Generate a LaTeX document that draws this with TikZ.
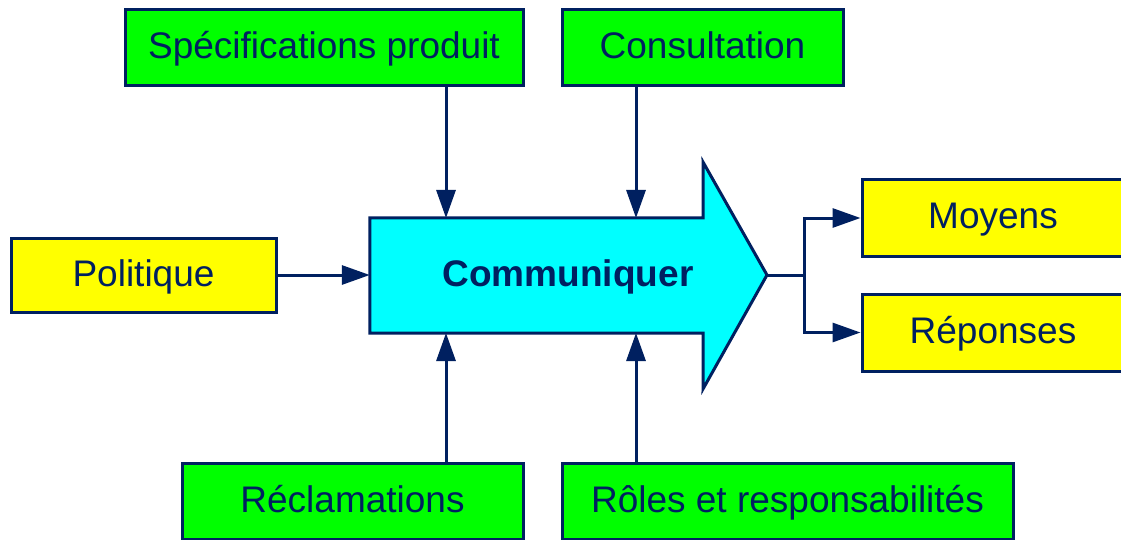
\documentclass[tikz,border=0pt]{standalone}
\usepackage{fontspec}
\setmainfont{Liberation Sans}
\usetikzlibrary{arrows.meta}
\definecolor{navy}{RGB}{0,32,96}
\definecolor{boxgreen}{RGB}{0,255,0}
\definecolor{boxyellow}{RGB}{255,255,0}
\definecolor{boxcyan}{RGB}{0,255,255}
\tikzset{
  box/.style={draw=navy, line width=3pt, text=navy, inner sep=0pt,
    text height=27pt, text depth=5pt,
    font=\fontsize{37}{40}\selectfont},
  gbox/.style={box, fill=boxgreen},
  ybox/.style={box, fill=boxyellow},
  conn/.style={draw=navy, line width=3pt, -{Triangle[length=28pt,width=19pt]}},
  plain/.style={draw=navy, line width=3pt},
}
\begin{document}
\begin{tikzpicture}[x=1pt,y=-1pt]
\useasboundingbox[fill=white] (0,0) rectangle (1121,540);
% input/output boxes
\node[gbox, minimum width=398pt, minimum height=76pt] (spec) at (324,48) {Spécifications produit};
\node[gbox, minimum width=281pt, minimum height=76pt] (cons) at (702.5,48) {Consultation};
\node[ybox, minimum width=265pt, minimum height=74pt] (pol) at (143.5,275) {Politique};
\node[ybox, minimum width=262pt, minimum height=76pt] (moy) at (993,218) {Moyens};
\node[ybox, minimum width=262pt, minimum height=77pt] (rep) at (993,332.5) {Réponses};
\node[gbox, minimum width=341pt, minimum height=76pt] (recl) at (352.5,501) {Réclamations};
\node[gbox, minimum width=451pt, minimum height=76pt] (role) at (787.5,501) {Rôles et responsabilités};
% big arrow
\node[minimum width=333pt, minimum height=115pt, inner sep=0pt] (body) at (536.5,275.5) {};
\coordinate (tip) at (767,275);
\coordinate (hn) at (703,162);
\coordinate (hs) at (703,389);
\filldraw[plain, fill=boxcyan, line join=miter]
  (body.north west) -- (body.north east) -- (hn) -- (tip) -- (hs)
  -- (body.south east) -- (body.south west) -- cycle;
\node[text=navy, inner sep=0pt, text height=27pt, text depth=5pt,
  font=\fontsize{37}{40}\selectfont\bfseries] (comm) at (568,275) {Communiquer};
% entry points on the arrow body
\coordinate (inA) at (446,218);
\coordinate (inB) at (636,218);
\coordinate (inC) at (446,333);
\coordinate (inD) at (636,333);
\coordinate (br) at (804,275);
% connectors
\draw[conn] (spec.south -| inA) -- (inA);
\draw[conn] (cons.south -| inB) -- (inB);
\draw[conn] (recl.north -| inC) -- (inC);
\draw[conn] (role.north -| inD) -- (inD);
\draw[conn] (pol.east) -- (pol.east -| body.west);
\draw[plain] (tip) -- (br);
\draw[conn] (br) |- (moy.west);
\draw[conn] (br) |- (rep.west);
\end{tikzpicture}
\end{document}
